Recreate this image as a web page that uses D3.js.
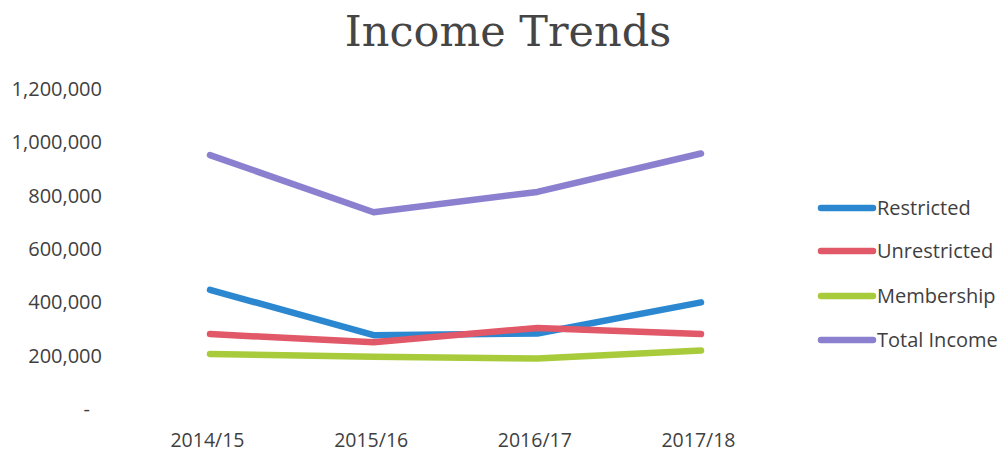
<!DOCTYPE html>
<html><head><meta charset="utf-8">
<script src="https://cdn.jsdelivr.net/npm/d3@7"></script>
<style>body{margin:0;background:#fff}</style>
</head><body>
<svg id="c" width="1002" height="459"></svg>
<script>
const categories = ["2014/15","2015/16","2016/17","2017/18"];
const restricted = [447000, 277000, 283000, 400000];
const unrestricted = [281000, 250000, 304000, 281000];
const membership = [206000, 196000, 189000, 219000];
const totalIncome = [952000, 738000, 814000, 958000];
const yTicks = [0,200000,400000,600000,800000,1000000,1200000];
const seriesNames = ["Restricted","Unrestricted","Membership","Total Income"];
const seriesColors = ["#2b87cf","#e15868","#a8cb3c","#8b80cf"];
const seriesData = [restricted, unrestricted, membership, totalIncome];

const svg = d3.select("#c");
const font = "'Open Sans', sans-serif";
const textColor = "#3f3f3f";

const x = d3.scalePoint().domain(categories).range([210, 701]);
const y = d3.scaleLinear().domain([0,1200000]).range([409, 89]);

svg.append("text").attr("x",508).attr("y",46).attr("text-anchor","middle")
  .attr("font-family","'DejaVu Serif', serif").attr("font-size",43).attr("fill","#454545")
  .text("Income Trends");

const fmt = d => d===0 ? "-" : d3.format(",")(d);
const yAxis = svg.append("g").attr("transform","translate(102,0)")
  .call(d3.axisLeft(y).tickValues(yTicks).tickFormat(fmt).tickSize(0).tickPadding(0));
yAxis.select(".domain").remove();
yAxis.selectAll("text").attr("font-family",font).attr("font-size",20).attr("fill",textColor)
  .attr("dx", d => d===0 ? -12 : 0);

const xAxis = svg.append("g").attr("transform","translate(-3,429)")
  .call(d3.axisBottom(x).tickSize(0).tickPadding(0));
xAxis.select(".domain").remove();
xAxis.selectAll("text").attr("font-family",font).attr("font-size",19.5).attr("fill",textColor)
  .attr("dy","0.9em");

const line = d3.line().x((d,i)=>x(categories[i])).y(d=>y(d));
seriesData.forEach((s,k)=>{
  svg.append("path").datum(s).attr("d",line).attr("fill","none")
    .attr("stroke",seriesColors[k]).attr("stroke-width",6.5)
    .attr("stroke-linecap","round").attr("stroke-linejoin","round");
});

const legY = [208, 251, 296, 340];
seriesNames.forEach((n,k)=>{
  svg.append("line").attr("x1",821).attr("x2",873).attr("y1",legY[k]).attr("y2",legY[k])
    .attr("stroke",seriesColors[k]).attr("stroke-width",6.5).attr("stroke-linecap","round");
  svg.append("text").attr("x",877).attr("y",legY[k]).attr("dy","0.35em")
    .attr("font-family",font).attr("font-size",20).attr("fill",textColor).text(n);
});
</script>
</body></html>
